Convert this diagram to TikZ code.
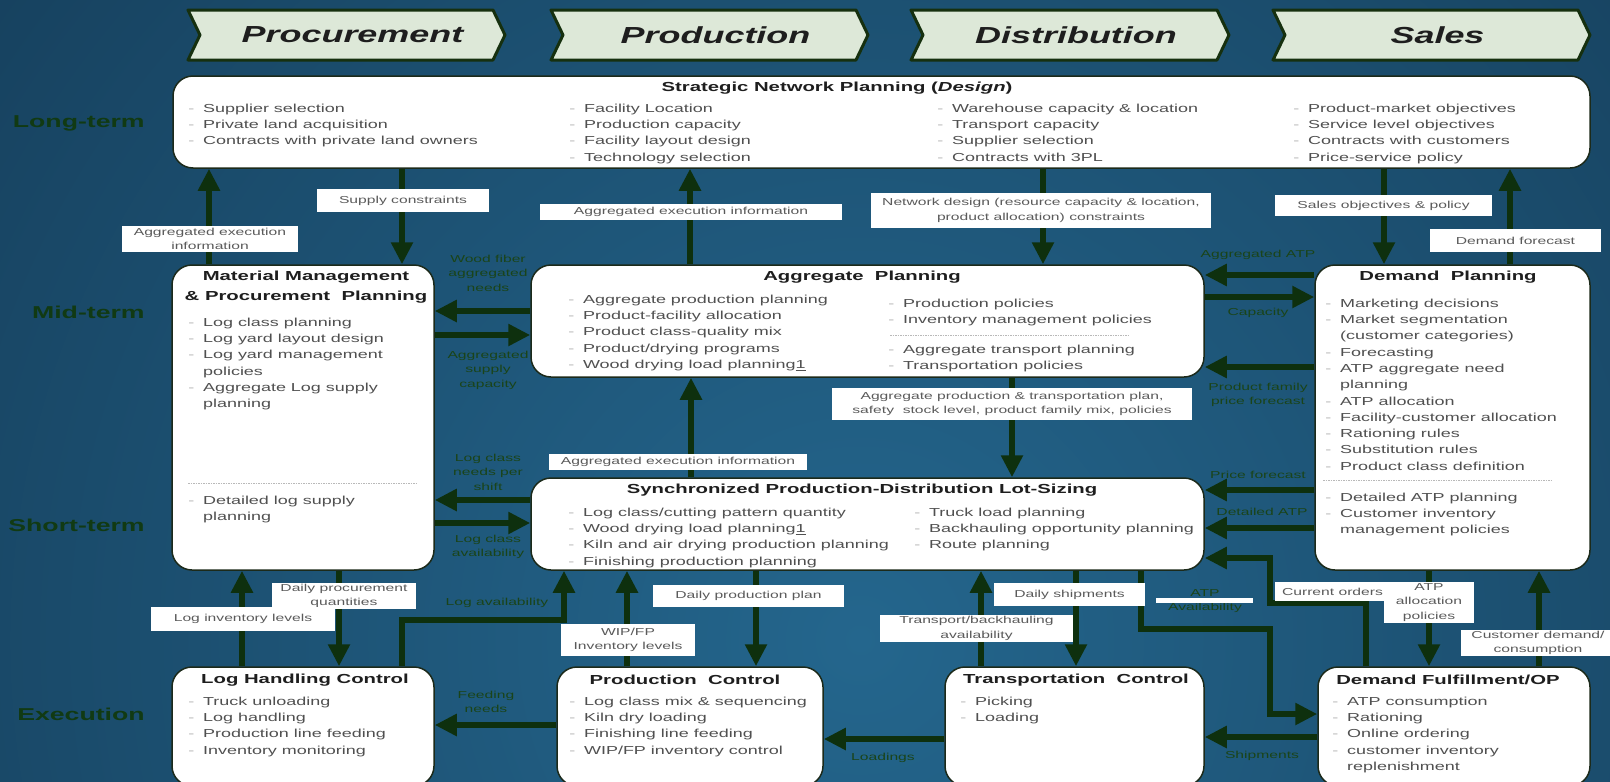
\documentclass[tikz,border=0pt]{standalone}
\usepackage{fontspec}
\setmainfont{Liberation Sans}
\usepackage{tikz}
\usetikzlibrary{arrows.meta}
\definecolor{bgin}{HTML}{24668D}
\definecolor{bgout}{HTML}{0F2D45}
\definecolor{chevfill}{HTML}{DDE8D8}
\definecolor{chevedge}{HTML}{16300F}
\definecolor{rowgreen}{HTML}{113A13}
\definecolor{arrgreen}{HTML}{0E300E}
\definecolor{labgreen}{HTML}{1A4419}
\definecolor{boxedge}{HTML}{1C2A1A}
\definecolor{txtgray}{HTML}{505050}
\definecolor{bulgray}{HTML}{B4B4B4}
\definecolor{lblgray}{HTML}{5A5A5A}
\definecolor{ttlblack}{HTML}{1E1E1E}
\newcommand{\bl}{\makebox[9.5pt][l]{\textcolor{bulgray}{-}}}
\newcommand{\bc}{\hspace*{9.5pt}}
\newcommand{\fl}{\rule{0pt}{9pt}}

\begin{document}
\begin{tikzpicture}[x=1pt, y=-1pt,
	box/.style={draw=boxedge, line width=1.5pt, fill=white, rounded corners=20pt, inner sep=0pt},
	chev/.style={fill=chevfill, draw=chevedge, line width=3pt, line join=round},
	chevtxt/.style={xscale=1.55, inner sep=0pt, text=ttlblack, font=\fontsize{23.2}{26}\selectfont\bfseries\itshape},
	rowlbl/.style={anchor=east, xscale=1.55, inner sep=0pt, text=rowgreen, font=\fontsize{17.2}{20}\selectfont\bfseries},
	ttl/.style={xscale=1.55, inner sep=0pt, align=center, text=ttlblack, font=\fontsize{13.1}{20}\selectfont\bfseries},
	txt/.style={anchor=north west, xscale=1.55, inner sep=0pt, align=left, text=txtgray, font=\fontsize{11.6}{16.3}\selectfont},
	lbl/.style={fill=white, xscale=1.55, inner sep=0pt, align=center, text=lblgray, font=\fontsize{10.1}{14.5}\selectfont},
	lblw/.style={minimum width=#1/1.55},
	lblh/.style={minimum height=#1},
	flow/.style={xscale=1.55, inner sep=0pt, align=center, text=labgreen, font=\fontsize{10.1}{14.5}\selectfont},
	arr/.style={draw=arrgreen, line width=6pt, -{Triangle[length=22pt,width=21pt]}},
	sepl/.style={draw=gray!55, line width=1pt, dash pattern=on 1.5pt off 1pt}]
	\useasboundingbox (0,0) rectangle (1610,782);
	\fill[bgout] (0,0) rectangle (1610,782);
	\begin{scope}
		\clip (0,0) rectangle (1610,782);
		\shade[inner color=bgin, outer color=bgout] (860,640) circle[radius=1700pt];
	\end{scope}

	\foreach \xa/\xb/\nm in {188/505/Procurement, 551/868/Production, 911/1229/Distribution, 1273/1590/Sales} {
		\draw[chev] (\xa,10) -- ({\xb-12},10) -- (\xb,35) -- ({\xb-12},60) -- (\xa,60) -- ({\xa+12},35) -- cycle;
		\node[chevtxt] (hd\nm) at ({(\xa+\xb)/2+6},35) {\nm};
	}

	\node[rowlbl] (rowLong) at (145,123) {Long-term};
	\node[rowlbl] (rowMid) at (145,312) {Mid-term};
	\node[rowlbl] (rowShort) at (145,525) {Short-term};
	\node[rowlbl] (rowExec) at (145,714) {Execution};

	\node[box, minimum width=1417pt, minimum height=92pt] (strat) at (881.5,122) {};
	\node[box, minimum width=262pt, minimum height=305pt] (mat) at (303,417.5) {};
	\node[box, minimum width=673pt, minimum height=112pt] (agg) at (867.5,321) {};
	\node[box, minimum width=673pt, minimum height=92pt] (sync) at (867.5,524) {};
	\node[box, minimum width=275pt, minimum height=305pt] (dem) at (1452.5,417.5) {};
	\node[box, minimum width=262pt, minimum height=119pt] (logc) at (303,726.5) {};
	\node[box, minimum width=266pt, minimum height=119pt] (prodc) at (690,726.5) {};
	\node[box, minimum width=259pt, minimum height=119pt] (trc) at (1074.5,726.5) {};
	\node[box, minimum width=272pt, minimum height=119pt] (dfc) at (1454,726.5) {};

	\node[ttl] (stratT) at (837,88) {Strategic Network Planning (\textit{Design})};
	\node[txt] (stratA) at (188,103) {\fl\bl Supplier selection\\\bl Private land acquisition\\\bl Contracts with private land owners};
	\node[txt] (stratB) at (569,103) {\fl\bl Facility Location\\\bl Production capacity\\\bl Facility layout design\\\bl Technology selection};
	\node[txt] (stratC) at (937,103) {\fl\bl Warehouse capacity \& location\\\bl Transport capacity\\\bl Supplier selection\\\bl Contracts with 3PL};
	\node[txt] (stratD) at (1293,103) {\fl\bl Product-market objectives\\\bl Service level objectives\\\bl Contracts with customers\\\bl Price-service policy};

	\node[ttl] (matT) at (306,287) {Material Management\\\& Procurement\ \ Planning};
	\node[txt] (matA) at (188,317) {\fl\bl Log class planning\\\bl Log yard layout design\\\bl Log yard management\\\bc policies\\\bl Aggregate Log supply\\\bc planning};
	\draw[sepl] (188,483) -- (416,483);
	\node[txt] (matB) at (188,495) {\fl\bl Detailed log supply\\\bc planning};

	\node[ttl] (aggT) at (862,277) {Aggregate\ \ Planning};
	\node[txt] (aggA) at (568,294) {\fl\bl Aggregate production planning\\\bl Product-facility allocation\\\bl Product class-quality mix\\\bl Product/drying programs\\\bl Wood drying load planning\underline{1}};
	\node[txt] (aggB) at (888,298) {\fl\bl Production policies\\\bl Inventory management policies};
	\draw[sepl] (890,335) -- (1129,335);
	\node[txt] (aggC) at (888,344) {\fl\bl Aggregate transport planning\\\bl Transportation policies};

	\node[ttl] (syncT) at (862,490) {Synchronized Production-Distribution Lot-Sizing};
	\node[txt] (syncA) at (568,507) {\fl\bl Log class/cutting pattern quantity\\\bl Wood drying load planning\underline{1}\\\bl Kiln and air drying production planning\\\bl Finishing production planning};
	\node[txt] (syncB) at (914,507) {\fl\bl Truck load planning\\\bl Backhauling opportunity planning\\\bl Route planning};

	\node[ttl] (demT) at (1448,277) {Demand\ \ Planning};
	\node[txt] (demA) at (1325,298) {\fl\bl Marketing decisions\\\bl Market segmentation\\\bc (customer categories)\\\bl Forecasting\\\bl ATP aggregate need\\\bc planning\\\bl ATP allocation\\\bl Facility-customer allocation\\\bl Rationing rules\\\bl Substitution rules\\\bl Product class definition};
	\draw[sepl] (1323,480) -- (1552,480);
	\node[txt] (demB) at (1325,492) {\fl\bl Detailed ATP planning\\\bl Customer inventory\\\bc management policies};

	\node[ttl] (logcT) at (305,680) {Log Handling Control};
	\node[txt] (logcA) at (188,696) {\fl\bl Truck unloading\\\bl Log handling\\\bl Production line feeding\\\bl Inventory monitoring};
	\node[ttl] (prodcT) at (685,680) {Production\ \ Control};
	\node[txt] (prodcA) at (569,696) {\fl\bl Log class mix \& sequencing\\\bl Kiln dry loading\\\bl Finishing line feeding\\\bl WIP/FP inventory control};
	\node[ttl] (trcT) at (1076,680) {Transportation\ \ Control};
	\node[txt] (trcA) at (960,696) {\fl\bl Picking\\\bl Loading};
	\node[ttl] (dfcT) at (1448,680) {Demand Fulfillment/OP};
	\node[txt] (dfcA) at (1332,696) {\fl\bl ATP consumption\\\bl Rationing\\\bl Online ordering\\\bl customer inventory\\\bc replenishment};

	\foreach \n/\x in {kMatUp/209, kSupDn/402, kAggUp/690, kNetDn/1043, kSalDn/1384, kDemUp/1510, kSyncUp/691, kPlanDn/1012, kLogUp/242, kProcDn/339, kWipUp/627, kDppDn/756, kTbaUp/981, kDshDn/1076, kAlcDn/1429, kCdcUp/1539}
		\coordinate (\n) at (\x,0);
	\foreach \n/\y in {kWood/311, kAsc/335, kNeed/500, kAvl/523, kAatp/275, kCap/297, kPfp/367, kPf/490, kDatp/528, kFeed/725, kLoad/739, kShip/737}
		\coordinate (\n) at (0,\y);
	\coordinate (kLa) at (402,0);
	\coordinate (kLb) at (564,620);
	\coordinate (kAa) at (1141,0);
	\coordinate (kAb) at (1270,629);
	\coordinate (kAc) at (0,714);
	\coordinate (kCa) at (1366,0);
	\coordinate (kCb) at (1270,603);
	\coordinate (kCc) at (0,558);

	\draw[arr] (mat.north -| kMatUp) -- (strat.south -| kMatUp);
	\draw[arr] (strat.south -| kSupDn) -- (mat.north -| kSupDn);
	\draw[arr] (agg.north -| kAggUp) -- (strat.south -| kAggUp);
	\draw[arr] (strat.south -| kNetDn) -- (agg.north -| kNetDn);
	\draw[arr] (strat.south -| kSalDn) -- (dem.north -| kSalDn);
	\draw[arr] (dem.north -| kDemUp) -- (strat.south -| kDemUp);
	\draw[arr] (sync.north -| kSyncUp) -- (agg.south -| kSyncUp);
	\draw[arr] (agg.south -| kPlanDn) -- (sync.north -| kPlanDn);
	\draw[arr] (logc.north -| kLogUp) -- (mat.south -| kLogUp);
	\draw[arr] (mat.south -| kProcDn) -- (logc.north -| kProcDn);
	\draw[arr] (prodc.north -| kWipUp) -- (sync.south -| kWipUp);
	\draw[arr] (sync.south -| kDppDn) -- (prodc.north -| kDppDn);
	\draw[arr] (trc.north -| kTbaUp) -- (sync.south -| kTbaUp);
	\draw[arr] (sync.south -| kDshDn) -- (trc.north -| kDshDn);
	\draw[arr] (dem.south -| kAlcDn) -- (dfc.north -| kAlcDn);
	\draw[arr] (dfc.north -| kCdcUp) -- (dem.south -| kCdcUp);

	\draw[arr] (agg.west |- kWood) -- (mat.east |- kWood);
	\draw[arr] (mat.east |- kAsc) -- (agg.west |- kAsc);
	\draw[arr] (sync.west |- kNeed) -- (mat.east |- kNeed);
	\draw[arr] (mat.east |- kAvl) -- (sync.west |- kAvl);
	\draw[arr] (dem.west |- kAatp) -- (agg.east |- kAatp);
	\draw[arr] (agg.east |- kCap) -- (dem.west |- kCap);
	\draw[arr] (dem.west |- kPfp) -- (agg.east |- kPfp);
	\draw[arr] (dem.west |- kPf) -- (sync.east |- kPf);
	\draw[arr] (dem.west |- kDatp) -- (sync.east |- kDatp);
	\draw[arr] (prodc.west |- kFeed) -- (logc.east |- kFeed);
	\draw[arr] (trc.west |- kLoad) -- (prodc.east |- kLoad);
	\draw[arr] (dfc.west |- kShip) -- (trc.east |- kShip);

	\draw[arr] (logc.north -| kLa) |- (kLb) -- (sync.south -| kLb);
	\draw[arr] (sync.south -| kAa) |- (kAb) |- (dfc.west |- kAc);
	\draw[arr] (dfc.north -| kCa) |- (kCb) |- (sync.east |- kCc);

	\node[lbl, lblw=176, lblh=26] (lbAeiA) at (210,239) {Aggregated execution\\information};
	\node[lbl, lblw=172, lblh=23] (lbSup) at (403,200.5) {Supply constraints};
	\node[lbl, lblw=302, lblh=16] (lbAeiB) at (691,212) {Aggregated execution information};
	\node[lbl, lblw=340, lblh=35] (lbNet) at (1041,210.5) {Network design (resource capacity \& location,\\product allocation) constraints};
	\node[lbl, lblw=217, lblh=21] (lbSal) at (1383.5,205.5) {Sales objectives \& policy};
	\node[lbl, lblw=171, lblh=23] (lbDfc) at (1515.5,240.5) {Demand forecast};
	\node[lbl, lblw=360, lblh=32] (lbAgg) at (1012,404) {Aggregate production \& transportation plan,\\safety\ \ stock level, product family mix, policies};
	\node[lbl, lblw=258, lblh=16] (lbAeiC) at (678,462) {Aggregated execution information};
	\node[lbl, lblw=144, lblh=26] (lbDpq) at (344,596) {Daily procurement\\quantities};
	\node[lbl, lblw=184, lblh=24] (lbLil) at (243,619) {Log inventory levels};
	\node[lbl, lblw=134, lblh=32] (lbWip) at (628,640) {WIP/FP\\Inventory levels};
	\node[lbl, lblw=191, lblh=22] (lbDpp) at (748.5,596) {Daily production plan};
	\node[lbl, lblw=193, lblh=27] (lbTba) at (976.5,628.5) {Transport/backhauling\\availability};
	\node[lbl, lblw=151, lblh=23] (lbDsh) at (1069.5,594.5) {Daily shipments};
	\node[lbl, lblw=115, lblh=19] (lbCo) at (1332.5,591.5) {Current orders};
	\node[lbl, lblw=90, lblh=41] (lbAtp) at (1429,602.5) {ATP\\allocation\\policies};
	\node[lbl, lblw=154, lblh=26] (lbCdc) at (1538,643) {Customer demand/\\consumption};

	\node[flow] (lbWood) at (488,273) {Wood fiber\\aggregated\\needs};
	\node[flow] (lbAsc) at (488,370) {Aggregated\\supply\\capacity};
	\node[flow] (lbLcn) at (488,472) {Log class\\needs per\\shift};
	\node[flow] (lbLca) at (488,547) {Log class\\availability};
	\node[flow] (lbAatp) at (1258,255) {Aggregated ATP};
	\node[flow] (lbCap) at (1258,313) {Capacity};
	\node[flow] (lbPfp) at (1258,395) {Product family\\price forecast};
	\node[flow] (lbPf) at (1258,475) {Price forecast};
	\node[flow] (lbDatp) at (1262,512) {Detailed ATP};
	\node[flow] (lbLav) at (497,603) {Log availability};
	\node[flow] (lbFeed) at (486,702) {Feeding\\needs};
	\node[flow] (lbLoad) at (883,758) {Loadings};
	\node[flow] (lbShip) at (1262,756) {Shipments};
	\node[flow] (lbAtpAv) at (1205,601) {ATP\\Availability};
	\node[fill=white, inner sep=0pt, minimum width=97pt, minimum height=5pt] (atpBar) at (1204.5,600.5) {};
\end{tikzpicture}
\end{document}
